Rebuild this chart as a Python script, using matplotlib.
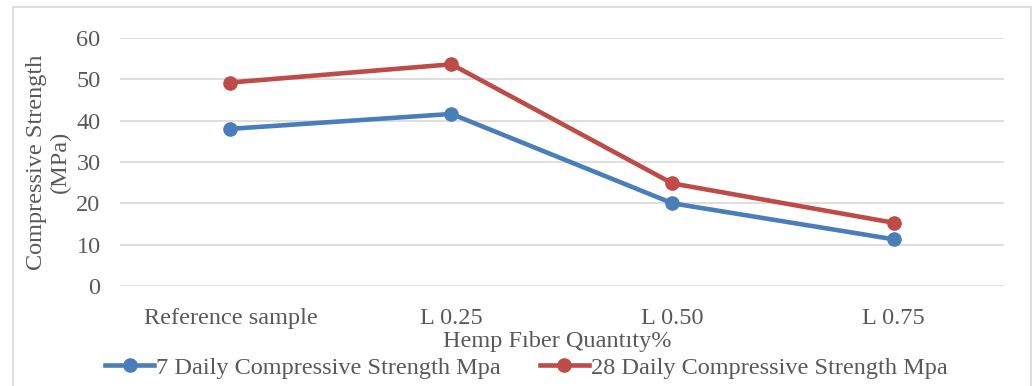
import matplotlib.pyplot as plt
from matplotlib.patches import Rectangle

# data
categories = ['Reference sample', 'L 0.25', 'L 0.50', 'L 0.75']
day7 = [38.0, 41.6, 20.0, 11.3]
day28 = [49.2, 53.6, 24.8, 15.3]
label7 = '7 Daily Compressive Strength Mpa'
label28 = '28 Daily Compressive Strength Mpa'

plt.rcParams['font.family'] = ['Liberation Serif', 'DejaVu Serif']

fig = plt.figure(figsize=(10.34, 3.86), dpi=100)
ax = fig.add_axes([0.116, 0.259, 0.855, 0.643])

# chart border
fig.patches.append(Rectangle((13/1034, -0.01), (1031-13)/1034, 1 - 7/386 + 0.01,
                             transform=fig.transFigure, fill=False,
                             edgecolor='#d9d9d9', lw=1.2))

x = range(len(categories))
ax.plot(x, day7, color='#4a7ebb', lw=3.3, marker='o', ms=9.5, label=label7)
ax.plot(x, day28, color='#be4b48', lw=3.3, marker='o', ms=9.5, label=label28)

ax.set_xlim(-0.5, 3.5)
ax.set_ylim(0, 60)
ax.set_yticks(range(0, 61, 10))
ax.set_xticks(list(x))
ax.set_xticklabels(categories)
ax.yaxis.grid(True, color='#d9d9d9', lw=1.2)
ax.set_axisbelow(True)
for s in ax.spines.values():
    s.set_visible(False)
ax.tick_params(length=0, labelsize=17.5, colors='#595959')
ax.tick_params(axis='y', pad=14)
ax.tick_params(axis='x', pad=16)

ax.set_ylabel('Compressive Strength\n(MPa)', fontsize=17.5, color='#595959',
              linespacing=1.15)
ax.yaxis.set_label_coords(-0.056, 0.5)
ax.set_xlabel('Hemp F\u0131ber Quant\u0131ty%', fontsize=17.5, color='#595959')
ax.xaxis.set_label_coords(0.495, -0.18)

ax.legend(loc='center', bbox_to_anchor=(0.46, -0.33), ncol=2, frameon=False,
          fontsize=17.5, labelcolor='#595959', handlelength=2.0, handletextpad=0.1,
          columnspacing=1.6, borderaxespad=0)

plt.savefig('out.png', dpi=100)
